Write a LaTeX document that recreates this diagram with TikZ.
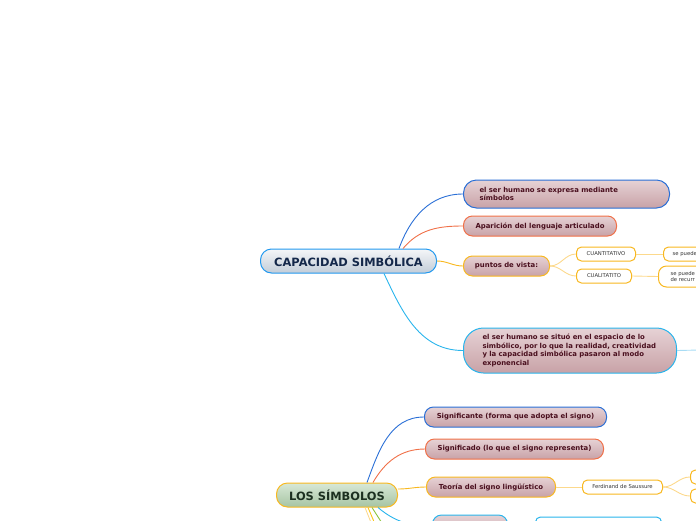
\documentclass[tikz,border=0pt]{standalone}
\usepackage{fontspec}
\setmainfont{DejaVu Sans}
\definecolor{branchBlue}{HTML}{2A6FD6}
\definecolor{branchRed}{HTML}{F07048}
\definecolor{branchYellow}{HTML}{F8B820}
\definecolor{branchSky}{HTML}{28B4EC}
\definecolor{branchGreen}{HTML}{8CC43C}
\definecolor{paleYellow}{HTML}{FCD98C}
\definecolor{paleSky}{HTML}{A8DCF4}
\definecolor{pinkTop}{HTML}{E6D2D5}
\definecolor{pinkBot}{HTML}{C8A2A7}
\definecolor{textRed}{HTML}{4A0F1E}
\definecolor{capTop}{HTML}{F4F6F8}
\definecolor{capBot}{HTML}{C3CDD8}
\definecolor{capText}{HTML}{14284A}
\definecolor{simTop}{HTML}{D8E8D6}
\definecolor{simBot}{HTML}{A6C4A3}
\definecolor{simText}{HTML}{1C3020}
\begin{document}
\begin{tikzpicture}
        [x=1pt, y=-1pt,
        main/.style={draw, rounded corners=11pt, line width=1pt, minimum height=24pt, font=\fontsize{11.4}{13}\selectfont\bfseries},
        topic/.style={draw, rounded corners=9pt, line width=1pt, minimum height=20pt, top color=pinkTop, bottom color=pinkBot, text=textRed, font=\fontsize{6.9}{8.5}\selectfont\bfseries},
        leaf/.style={draw=branchYellow, fill=white, rounded corners=5pt, line width=1pt, minimum height=14pt, text=black!80, font=\fontsize{5.3}{6.4}\selectfont},
        link/.style={line width=0.9pt},
        sublink/.style={line width=0.9pt, paleYellow}]
        \useasboundingbox (0,0) rectangle (696,520);
        \clip (0,0) rectangle (696,520);

        % capacidad simbolica
        \node[main, anchor=west, minimum width=176pt, draw=branchSky!85!blue, top color=capTop, bottom color=capBot, text=capText] (C) at (260,261) {CAPACIDAD SIMBÓLICA};
        \node[topic, anchor=west, draw=branchBlue, text width=174pt, inner xsep=16pt, align=left, minimum height=28pt, rounded corners=13pt] (A1) at (463,194) {el ser humano se expresa mediante\\símbolos};
        \node[topic, anchor=west, draw=branchRed, minimum width=153pt] (A2) at (463,226) {Aparición del lenguaje articulado};
        \node[topic, anchor=west, draw=branchYellow, minimum width=86pt] (A3) at (463,266) {puntos de vista:};
        \node[topic, anchor=west, draw=branchSky, text width=175pt, inner xsep=19pt, align=left, minimum height=45pt, rounded corners=20pt] (A4) at (463,350.5) {el ser humano se situó en el espacio de lo\\simbólico, por lo que la realidad, creatividad\\y la capacidad simbólica pasaron al modo\\exponencial};
        \node[leaf, anchor=west, minimum width=59pt] (Qn) at (576,254) {CUANTITATIVO};
        \node[leaf, anchor=west, minimum width=55pt] (Ql) at (576,276) {CUALITATITO};
        \node[leaf, anchor=west, text width=60pt, inner xsep=9pt, align=left] (Qn1) at (663,254) {se puede};
        \node[leaf, anchor=west, text width=60pt, inner xsep=12pt, align=left, minimum height=21pt, rounded corners=8pt] (Ql1) at (658,276.5) {se puede\\de recurr};
        \coordinate (A4r) at (700,350);

        \draw[link, branchBlue] ([xshift=-38pt]C.north east) to[out=70, in=180] (A1.west);
        \draw[link, branchRed] ([xshift=-34pt]C.north east) to[out=50, in=180] (A2.west);
        \draw[link, branchYellow] (C.east) to[out=0, in=180] (A3.west);
        \draw[link, branchSky] ([xshift=-53pt]C.south east) to[out=-65, in=180] (A4.west);
        \draw[link, paleSky] (A4.east) -- (A4r);
        \draw[sublink] (A3.east) to[out=0, in=180] (Qn.west);
        \draw[sublink] (A3.east) to[out=0, in=180] (Ql.west);
        \draw[sublink] (Qn.east) -- (Qn1.west);
        \draw[sublink] (Ql.east) -- (Ql1.west);

        % los simbolos
        \node[main, anchor=west, minimum width=121pt, draw=branchYellow, top color=simTop, bottom color=simBot, text=simText] (S) at (276,495) {LOS SÍMBOLOS};
        \node[topic, anchor=west, draw=branchBlue, minimum width=182pt] (B1) at (424,417) {Significante (forma que adopta el signo)};
        \node[topic, anchor=west, draw=branchRed, minimum width=178pt] (B2) at (425,449) {Significado (lo que el signo representa)};
        \node[topic, anchor=west, draw=branchYellow, minimum width=129pt] (B3) at (426,487) {Teoría del signo lingüístico};
        \node[topic, anchor=west, draw=branchSky, minimum width=75pt, minimum height=22pt] (B4) at (432,526) {};
        \node[leaf, anchor=west, draw=branchSky, minimum width=126pt, minimum height=20pt] (B5) at (535,527) {};
        \node[leaf, anchor=west, minimum width=80pt] (F) at (582,487) {Ferdinand de Saussure};
        \node[leaf, anchor=west, minimum width=30pt] (F1) at (690,477) {};
        \node[leaf, anchor=west, minimum width=30pt] (F2) at (690,496) {};
        \coordinate (Y1) at (382,550);
        \coordinate (Y2) at (386,550);
        \coordinate (G1) at (398,548);

        \draw[link, branchBlue] ([xshift=-31pt]S.north east) to[out=70, in=180] (B1.west);
        \draw[link, branchRed] ([xshift=-25pt]S.north east) to[out=60, in=180] (B2.west);
        \draw[link, branchYellow] ([yshift=6pt]S.east) to[out=0, in=180] (B3.west);
        \draw[link, branchSky] ([xshift=-20pt]S.south east) to[out=-40, in=180] (B4.west);
        \draw[link, branchGreen] ([xshift=-26pt]S.south east) -- (G1);
        \draw[link, paleYellow] ([xshift=-33pt]S.south east) -- (Y1);
        \draw[link, branchYellow!80!yellow] ([xshift=-30pt]S.south east) -- (Y2);
        \draw[sublink] (B3.east) -- (F.west);
        \draw[sublink] (F.east) to[out=0, in=180] (F1.west);
        \draw[sublink] (F.east) to[out=0, in=180] (F2.west);
    \end{tikzpicture}
\end{document}
